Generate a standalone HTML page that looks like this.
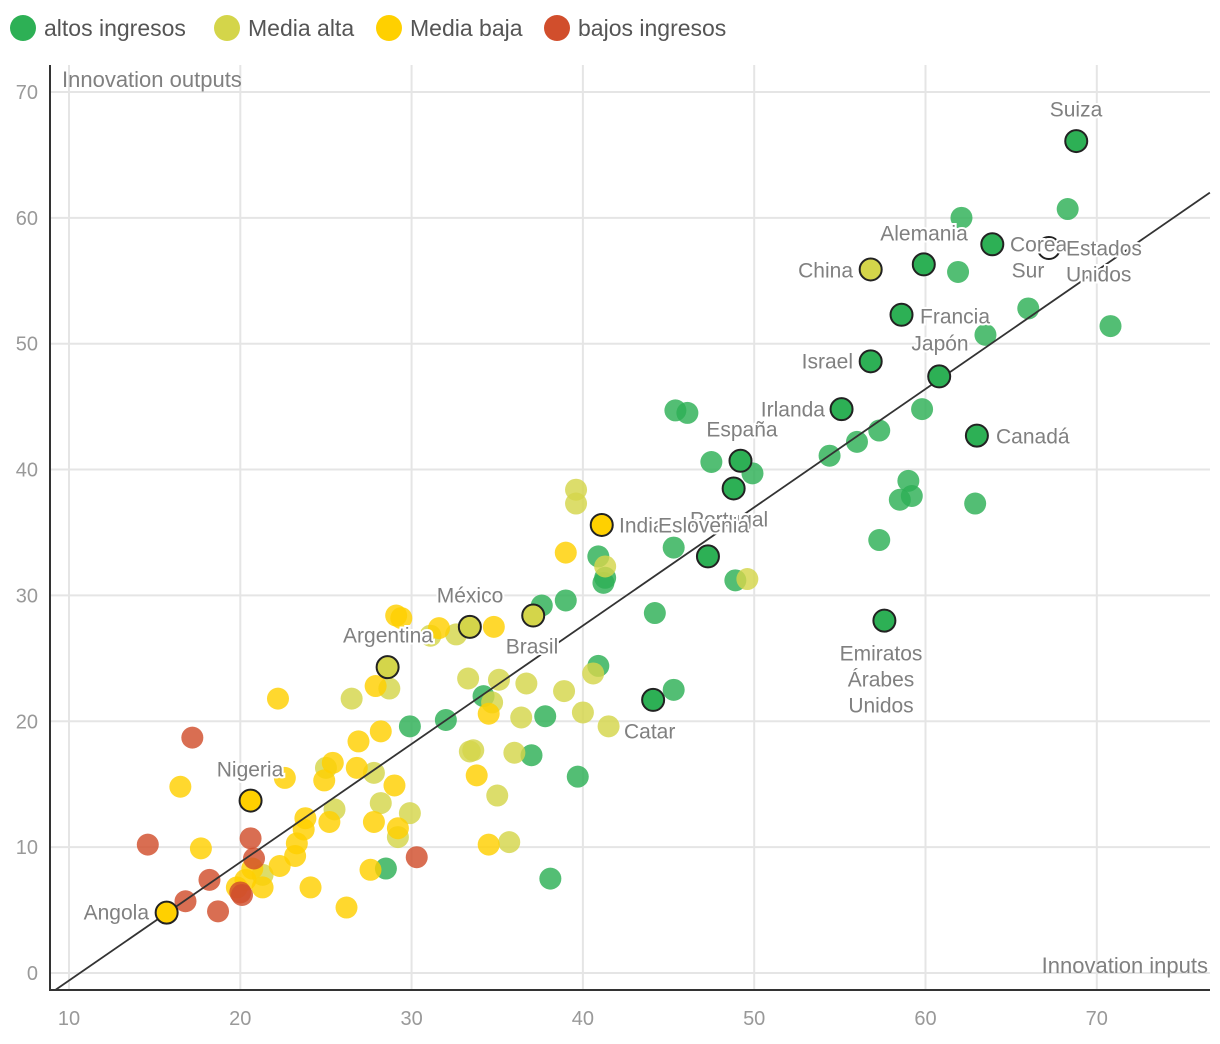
<!DOCTYPE html>
<html><head><meta charset="utf-8"><style>
body{margin:0;background:#fff;}
svg{display:block;font-family:"Liberation Sans",sans-serif;}
.lbl{fill:#808080;font-size:21px;stroke:#fff;stroke-width:4px;paint-order:stroke;dominant-baseline:middle;}
.tick{fill:#999;font-size:20px;}
</style></head><body>
<svg id="chart" width="1220" height="1044">
<g>
<circle cx="23" cy="28" r="13" fill="#2DB055"/><text x="44" y="36" font-size="23" fill="#555">altos ingresos</text>
<circle cx="227" cy="28" r="13" fill="#D4D54A"/><text x="248" y="36" font-size="23" fill="#555">Media alta</text>
<circle cx="389" cy="28" r="13" fill="#FFD000"/><text x="410" y="36" font-size="23" fill="#555">Media baja</text>
<circle cx="557" cy="28" r="13" fill="#D14E2C"/><text x="578" y="36" font-size="23" fill="#555">bajos ingresos</text>
</g>
<g id="grid"></g><g id="pts"></g><g id="lbls"></g>
<text x="62" y="87" font-size="22" fill="#808080">Innovation outputs</text>
<text x="1208" y="973" font-size="22" fill="#808080" text-anchor="end">Innovation inputs</text>
</svg>
<script>
const xTicks=[10,20,30,40,50,60,70];
const yTicks=[0,10,20,30,40,50,60,70];
const groups=["alto","alta","baja","bajo"];
const colors={alto:"#2DB055",alta:"#D4D54A",baja:"#FFD000",bajo:"#D14E2C"};
const altoX=[68.3,62.1,61.9,66.0,70.8,63.5,45.4,46.1,59.8,57.3,47.5,49.9,56.0,54.4,59.0,59.2,58.5,62.9,57.3,45.3,40.9,41.3,41.2,48.9,39.0,37.6,44.2,40.9,45.3,34.2,32.0,37.8,29.9,37.0,39.7,28.5,38.1];
const altoY=[60.7,60.0,55.7,52.8,51.4,50.7,44.7,44.5,44.8,43.1,40.6,39.7,42.2,41.1,39.1,37.9,37.6,37.3,34.4,33.8,33.1,31.4,31.0,31.2,29.6,29.2,28.6,24.4,22.5,22.0,20.1,20.4,19.6,17.3,15.6,8.3,7.5];
const altaX=[39.6,39.6,41.3,49.6,40.6,33.3,35.1,36.7,38.9,34.7,36.4,40.0,41.5,33.4,33.6,36.0,35.0,35.7,26.5,28.7,31.1,32.6,27.8,25.5,28.2,29.9,29.2,21.3,25.0];
const altaY=[38.4,37.3,32.3,31.3,23.8,23.4,23.3,23.0,22.4,21.5,20.3,20.7,19.6,17.6,17.7,17.5,14.1,10.4,21.8,22.6,26.8,26.9,15.9,13.0,13.5,12.7,10.8,7.8,16.3];
const bajaX=[29.1,29.4,31.6,34.8,22.2,27.9,26.9,28.2,25.4,24.9,26.8,29.0,22.6,16.5,17.7,23.8,23.7,23.3,23.2,25.2,27.8,29.2,22.3,20.7,19.8,21.3,24.1,26.2,27.6,34.5,33.8,34.5,39.0,20.3];
const bajaY=[28.4,28.2,27.4,27.5,21.8,22.8,18.4,19.2,16.7,15.3,16.3,14.9,15.5,14.8,9.9,12.3,11.4,10.3,9.3,12.0,12.0,11.5,8.5,8.3,6.8,6.8,6.8,5.2,8.2,20.6,15.7,10.2,33.4,7.4];
const bajoX=[17.2,14.6,20.6,20.8,30.3,18.2,16.8,18.7,20.0,20.1];
const bajoY=[18.7,10.2,10.7,9.1,9.2,7.4,5.7,4.9,6.4,6.2];
const hlNames=["Suiza","Corea del Sur","Estados Unidos","Alemania","China","Francia","Israel","Japón","Irlanda","Canadá","España","Portugal","India","Eslovenia","Emiratos","Brasil","México","Argentina","Catar","Nigeria","Angola"];
const hlX=[68.8,63.9,67.2,59.9,56.8,58.6,56.8,60.8,55.1,63.0,49.2,48.8,41.1,47.3,57.6,37.1,33.4,28.6,44.1,20.6,15.7];
const hlY=[66.1,57.9,57.6,56.3,55.9,52.3,48.6,47.4,44.8,42.7,40.7,38.5,35.6,33.1,28.0,28.4,27.5,24.3,21.7,13.7,4.8];
const hlGroup=["alto","alto","none","alto","alta","alto","alto","alto","alto","alto","alto","alto","baja","alto","alto","alta","alta","alta","alto","baja","baja"];
const fitSlope=0.94, fitIntercept=-10;
const sx=v=>69+(v-10)*17.13;
const sy=v=>973-v*12.586;
const NS="http://www.w3.org/2000/svg";
function mk(tag,attrs,parent){const e=document.createElementNS(NS,tag);for(const k in attrs)e.setAttribute(k,attrs[k]);parent.appendChild(e);return e;}
const grid=document.getElementById('grid');
xTicks.forEach(t=>{
 const l=mk('line',{x1:sx(t),x2:sx(t),y1:65,y2:990,stroke:'#e5e5e5','stroke-width':2},grid);
 
 
 const tx=mk('text',{x:sx(t),y:1025,'text-anchor':'middle',class:'tick'},grid);tx.textContent=t;
 
 
});
yTicks.forEach(t=>{
 const l=mk('line',{x1:50,x2:1210,y1:sy(t),y2:sy(t),stroke:'#e5e5e5','stroke-width':2},grid);
 
 
 const tx=mk('text',{x:38,y:sy(t)+7,'text-anchor':'end',class:'tick'},grid);tx.textContent=t;
 
 
});
const ax=mk('path',{d:'M50 65V990H1210',fill:'none',stroke:'#333','stroke-width':2},grid);


const pts=document.getElementById('pts');
const sets={alto:[altoX,altoY],alta:[altaX,altaY],baja:[bajaX,bajaY],bajo:[bajoX,bajoY]};
groups.forEach(g=>{const [X,Y]=sets[g];X.forEach((x,i)=>{
 const c=mk('circle',{cx:sx(x),cy:sy(Y[i]),r:11,fill:colors[g],'fill-opacity':0.82},pts);
 
 
});});
const x0=9.2,x1=76.6;
const fl=mk('line',{x1:sx(x0),y1:sy(fitSlope*x0+fitIntercept),x2:sx(x1),y2:sy(fitSlope*x1+fitIntercept),stroke:'#333','stroke-width':1.8},pts);


hlX.forEach((x,i)=>{
 const g=hlGroup[i];
 const c=mk('circle',{cx:sx(x),cy:sy(hlY[i]),r:11,fill:g==='none'?'#fff':colors[g],stroke:'#222','stroke-width':2},pts);
 
 
});
const lbls=document.getElementById('lbls');
const labels=[["Suiza",1076,111,"middle"],["Alemania",924,235,"middle"],["Corea",1010,246,"start"],["Sur",1028,272,"middle"],["Estados",1066,250,"start"],["Unidos",1066,276,"start"],["China",853,272,"end"],["Francia",920,318,"start"],["Japón",940,345,"middle"],["Israel",853,363,"end"],["Irlanda",825,411,"end"],["España",742,431,"middle"],["Canadá",996,438,"start"],["Portugal",690,521,"start"],["India",619,527,"start"],["Eslovenia",658,527,"start"],["Emiratos",881,655,"middle"],["Árabes",881,681,"middle"],["Unidos",881,707,"middle"],["Catar",624,733,"start"],["Brasil",532,648,"middle"],["México",470,597,"middle"],["Argentina",388,637,"middle"],["Nigeria",250,771,"middle"],["Angola",149,914,"end"]];
labels.forEach(l=>{
 const t=mk('text',{x:l[1],y:l[2],'text-anchor':l[3],class:'lbl'},lbls);t.textContent=l[0];
 
 
});
</script>
</body></html>
